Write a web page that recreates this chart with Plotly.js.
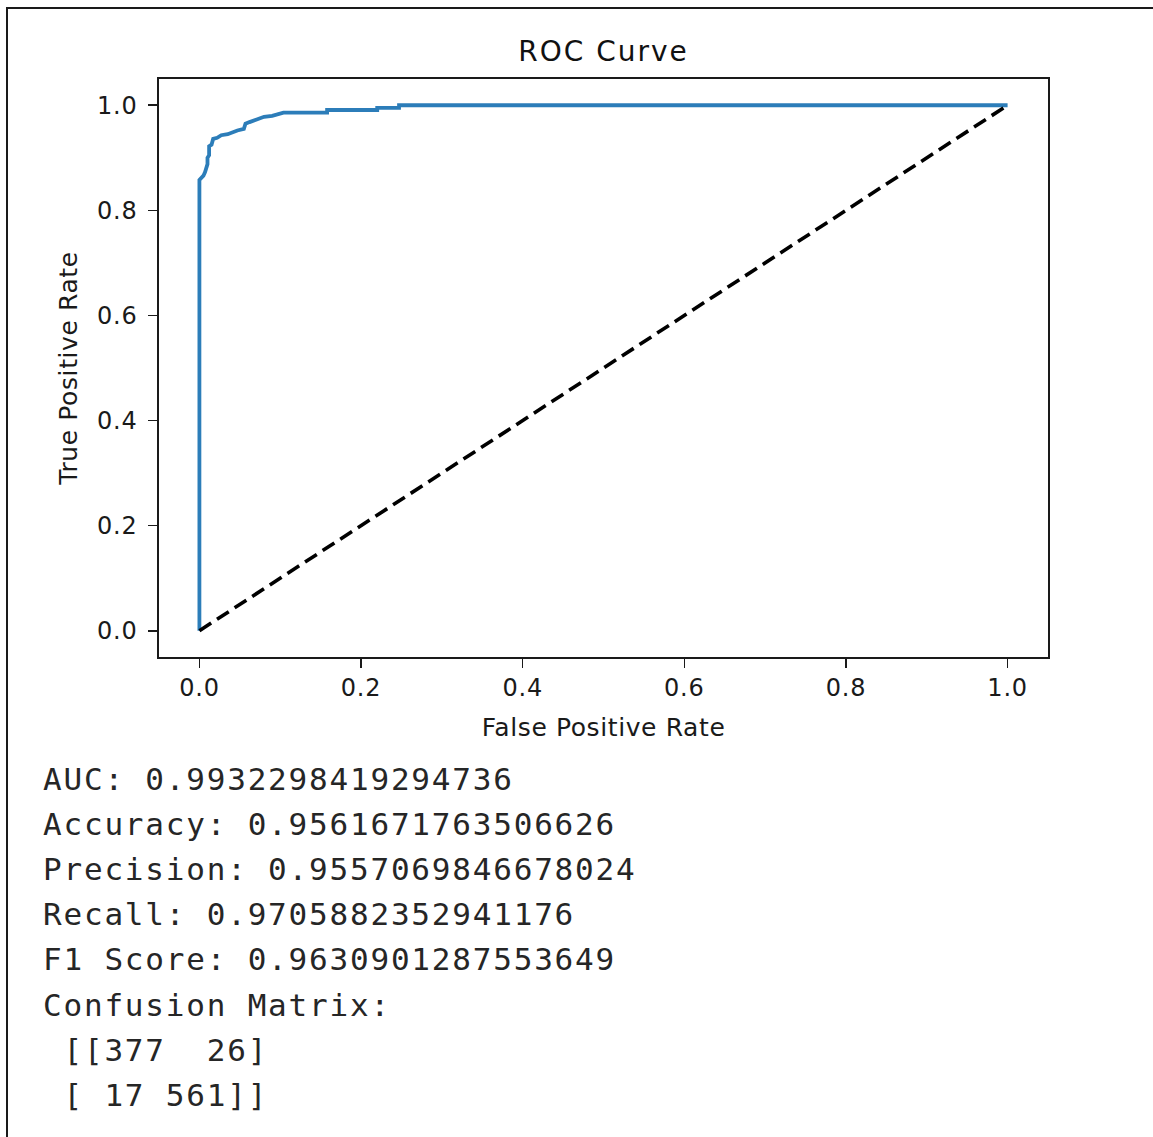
<!DOCTYPE html>
<html>
<head>
<meta charset="utf-8">
<title>ROC Curve</title>
<script src="https://cdn.plot.ly/plotly-3.0.1.min.js"></script>
<style>
  html, body { margin: 0; padding: 0; background: #ffffff; }
  #wrap { position: relative; width: 1153px; height: 1137px; overflow: hidden; background: #ffffff; }
  #frame { position: absolute; left: 6px; top: 7px; right: -10px; bottom: -10px;
           border-left: 2px solid #1a1a1a; border-top: 2px solid #1a1a1a; }
  #chart { position: absolute; left: 0; top: 0; width: 1153px; height: 1137px; }
  /* widen the lettering a little, as in a stretched notebook figure */
  #chart .gtitle { letter-spacing: 2px !important; }
  #chart .xtick text, #chart .ytick text { letter-spacing: 0.8px !important; }
  #chart .xtitle, #chart .ytitle { letter-spacing: 0.6px !important; }
  #chart .annotation-text { letter-spacing: 1.8px !important; }
</style>
</head>
<body>
<div id="wrap">
  <div id="frame"></div>
  <div id="chart"></div>
</div>
<script>
// ROC curve corner points (false positive rate, true positive rate)
const fpr = [0.000, 0.000, 0.005, 0.007, 0.010, 0.010, 0.012, 0.012, 0.015, 0.017,
             0.022, 0.027, 0.035, 0.040, 0.047, 0.055, 0.057, 0.062, 0.070, 0.080,
             0.090, 0.104, 0.158, 0.158, 0.220, 0.220, 0.247, 0.247, 1.000];
const tpr = [0.000, 0.858, 0.866, 0.873, 0.888, 0.900, 0.905, 0.922, 0.925, 0.936,
             0.938, 0.943, 0.945, 0.948, 0.952, 0.955, 0.965, 0.968, 0.972, 0.978,
             0.980, 0.986, 0.986, 0.991, 0.991, 0.995, 0.995, 1.000, 1.000];

// chance diagonal
const chanceX = [0, 1];
const chanceY = [0, 1];

// axis ticks
const tickVals = [0.0, 0.2, 0.4, 0.6, 0.8, 1.0];
const tickText = ['0.0', '0.2', '0.4', '0.6', '0.8', '1.0'];

// printed evaluation metrics
const metricNames = ['AUC', 'Accuracy', 'Precision', 'Recall', 'F1 Score'];
const metricValues = [0.9932298419294736, 0.9561671763506626, 0.9557069846678024,
                      0.9705882352941176, 0.9630901287553649];
const confusion = [[377, 26], [17, 561]];

// plot area in page pixels
const W = 1153, H = 1137;
const L = 159, R = 1048, T = 79, B = 657;
const px2x = px => (px - L) / (R - L);
const py2y = py => (B - py) / (B - T);

// text lines below the figure, formatted like a Python print
const cellWidth = Math.max(...confusion.flat().map(v => String(v).length));
const rowStr = r => '[' + r.map(v => String(v).padStart(cellWidth, ' ')).join(' ') + ']';
const lines = metricNames.map((n, i) => n + ': ' + String(metricValues[i]));
lines.push('Confusion Matrix:');
lines.push(' [' + rowStr(confusion[0]));
lines.push(' ' + rowStr(confusion[1]) + ']');

const lineTop = 779, lineStep = 45.1;
const annotations = lines.map((s, i) => ({
  text: s.replace(/ /g, '\u00a0'),
  xref: 'paper', yref: 'paper',
  x: px2x(41), y: py2y(lineTop + i * lineStep),
  xanchor: 'left', yanchor: 'middle', align: 'left',
  showarrow: false,
  font: { family: 'DejaVu Sans Mono, monospace', size: 31, color: '#262626' }
}));

const traces = [
  {
    x: fpr, y: tpr, type: 'scatter', mode: 'lines',
    line: { color: '#2c7db9', width: 3.8 },
    hoverinfo: 'skip', showlegend: false
  },
  {
    x: chanceX, y: chanceY, type: 'scatter', mode: 'lines',
    line: { color: '#000000', width: 3.6, dash: '14px,7px' },
    hoverinfo: 'skip', showlegend: false
  }
];

const axisFont = { family: 'DejaVu Sans, sans-serif', size: 24, color: '#1a1a1a' };
const titleFont = { family: 'DejaVu Sans, sans-serif', size: 25, color: '#1a1a1a' };

const layout = {
  width: W, height: H,
  margin: { l: L, r: W - R, t: T, b: H - B, pad: 0 },
  paper_bgcolor: 'rgba(0,0,0,0)',
  plot_bgcolor: '#ffffff',
  showlegend: false,
  title: {
    text: 'ROC Curve',
    font: { family: 'DejaVu Sans, sans-serif', size: 28, color: '#111111' },
    xref: 'paper', x: 0.5, xanchor: 'center',
    yref: 'container', y: 1 - 51 / H, yanchor: 'middle'
  },
  xaxis: {
    range: [-0.05, 1.05],
    tickmode: 'array', tickvals: tickVals, ticktext: tickText,
    ticks: 'outside', ticklen: 9, tickwidth: 1.6, tickcolor: '#1a1a1a',
    tickfont: axisFont,
    showline: true, mirror: true, linecolor: '#1a1a1a', linewidth: 1.6,
    showgrid: false, zeroline: false, automargin: false,
    title: { text: 'False Positive Rate', font: titleFont, standoff: 17 }
  },
  yaxis: {
    range: [-0.05, 1.05],
    tickmode: 'array', tickvals: tickVals, ticktext: tickText,
    ticks: 'outside', ticklen: 9, tickwidth: 1.6, tickcolor: '#1a1a1a',
    tickfont: axisFont, ticklabelstandoff: 6,
    showline: true, mirror: true, linecolor: '#1a1a1a', linewidth: 1.6,
    showgrid: false, zeroline: false, automargin: false,
    title: { text: 'True Positive Rate', font: titleFont, standoff: 14 }
  },
  annotations: annotations
};

Plotly.newPlot('chart', traces, layout, { staticPlot: true, displayModeBar: false });
</script>
</body>
</html>
